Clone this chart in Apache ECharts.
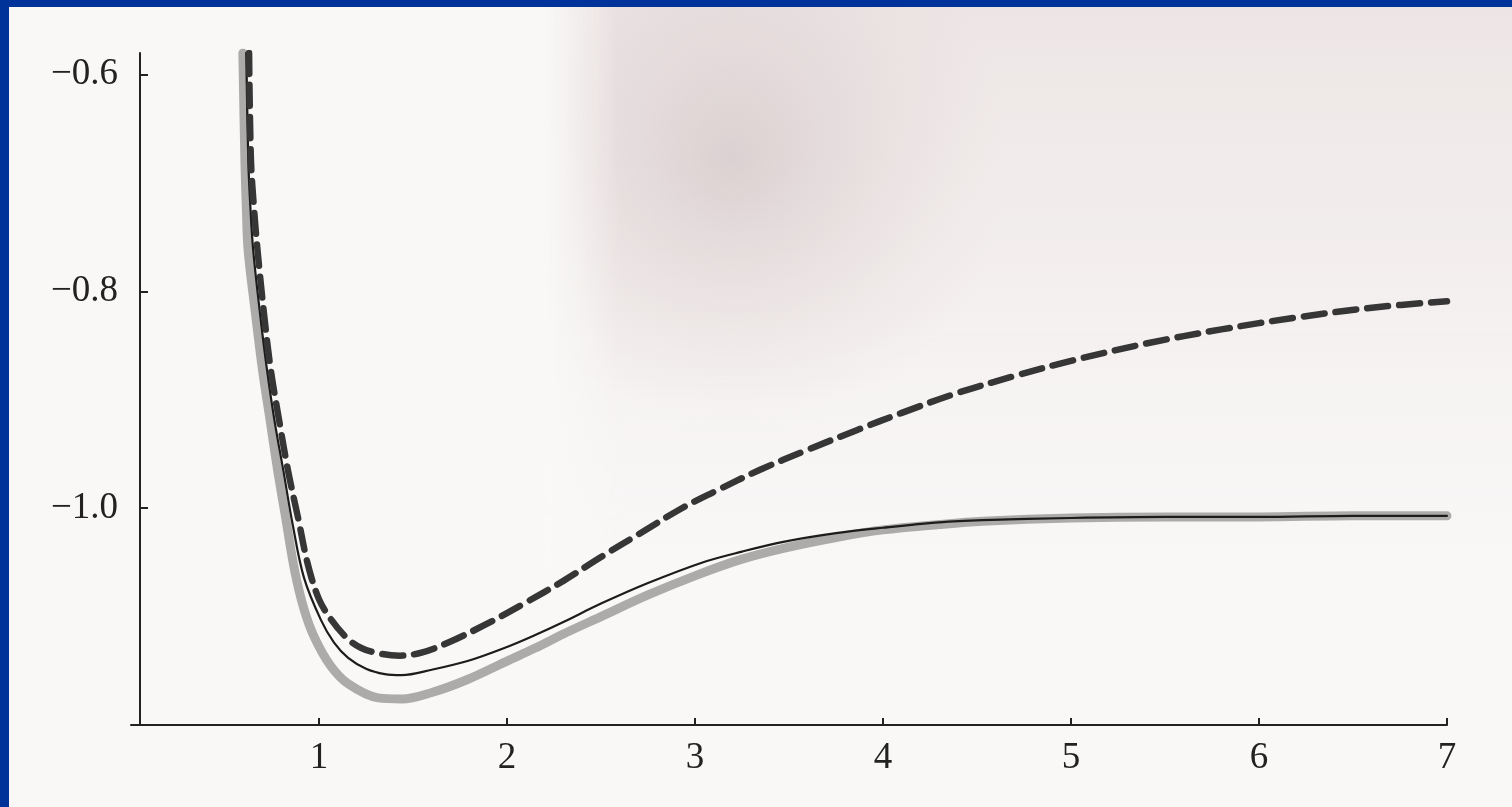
<!DOCTYPE html>
<html>
<head>
<meta charset="utf-8">
<script src="https://cdn.jsdelivr.net/npm/echarts@6/dist/echarts.min.js"></script>
<style>
  html, body { margin: 0; padding: 0; width: 1512px; height: 807px; background: #00339a; overflow: hidden; }
  #chart { position: absolute; left: 9px; top: 7px; width: 1503px; height: 800px; background: #f9f8f7; }
</style>
</head>
<body>
<div id="chart"></div>
<script>
// Potential energy curves E(R): three approximations
const xTicks = [1, 2, 3, 4, 5, 6, 7];
const yTicks = [-1.0, -0.8, -0.6];

// upper curve (dashed)
const rDashed = [0.628, 0.638, 0.655, 0.673, 0.709, 0.744, 0.79, 0.835, 0.89, 0.941, 1.0, 1.066, 1.15, 1.225, 1.32, 1.43, 1.55, 1.70, 1.90, 2.10, 2.30, 2.50, 2.70, 2.93, 3.10, 3.34, 3.60, 3.86, 4.10, 4.39, 4.70, 5.00, 5.40, 5.80, 6.20, 6.60, 7.00];
const eDashed = [-0.580, -0.679, -0.725, -0.762, -0.823, -0.873, -0.921, -0.965, -1.010, -1.052, -1.084, -1.103, -1.120, -1.129, -1.134, -1.136, -1.133, -1.123, -1.106, -1.087, -1.067, -1.045, -1.024, -1.000, -0.985, -0.965, -0.946, -0.928, -0.912, -0.894, -0.878, -0.864, -0.848, -0.835, -0.824, -0.815, -0.809];

// middle curve (thin solid)
const rSolid = [0.613, 0.624, 0.636, 0.650, 0.688, 0.724, 0.765, 0.81, 0.86, 0.92, 1.01, 1.08, 1.155, 1.25, 1.35, 1.44, 1.60, 1.79, 2.00, 2.15, 2.30, 2.50, 2.75, 3.04, 3.25, 3.47, 3.75, 4.00, 4.30, 4.53, 5.00, 5.50, 6.00, 6.50, 7.00];
const eSolid = [-0.580, -0.680, -0.725, -0.762, -0.823, -0.873, -0.921, -0.965, -1.015, -1.064, -1.103, -1.124, -1.138, -1.148, -1.153, -1.154, -1.149, -1.141, -1.128, -1.117, -1.105, -1.088, -1.069, -1.050, -1.040, -1.031, -1.023, -1.018, -1.013, -1.011, -1.009, -1.008, -1.008, -1.007, -1.007];

// lower curve (broad grey)
const rGray = [0.595, 0.606, 0.614, 0.623, 0.664, 0.700, 0.74, 0.78, 0.82, 0.87, 0.92, 0.975, 1.06, 1.155, 1.315, 1.44, 1.60, 1.79, 2.00, 2.15, 2.30, 2.50, 2.75, 3.02, 3.25, 3.47, 3.75, 4.00, 4.30, 4.53, 5.00, 5.50, 6.00, 6.50, 7.00];
const eGray = [-0.580, -0.680, -0.725, -0.762, -0.823, -0.873, -0.919, -0.965, -1.006, -1.057, -1.093, -1.119, -1.145, -1.162, -1.175, -1.176, -1.170, -1.158, -1.141, -1.129, -1.116, -1.100, -1.080, -1.061, -1.047, -1.037, -1.027, -1.020, -1.015, -1.012, -1.009, -1.008, -1.008, -1.007, -1.007];

const pairs = (xs, ys) => xs.map((x, i) => [x, ys[i]]);

const serif = '"Liberation Serif", "DejaVu Serif", serif';
const ink = '#222';
const paper = '#f9f8f7';
const G = echarts.graphic;

const chart = echarts.init(document.getElementById('chart'), null, { renderer: 'canvas' });

chart.setOption({
  animation: false,
  backgroundColor: 'transparent',
  // page shading of the printed sheet (darker towards the upper middle)
  graphic: [
    {
      type: 'rect', z: -10, silent: true,
      shape: { x: 520, y: 0, width: 983, height: 560 },
      style: { fill: new G.LinearGradient(0, 0, 0, 1, [
        { offset: 0, color: 'rgba(228,217,217,0.6)' },
        { offset: 0.55, color: 'rgba(236,228,228,0.4)' },
        { offset: 1, color: 'rgba(245,240,240,0)' }
      ]) }
    },
    {
      type: 'rect', z: -9, silent: true,
      shape: { x: 540, y: 0, width: 760, height: 460 },
      style: { fill: new G.RadialGradient(0.24, 0.33, 0.6, [
        { offset: 0, color: 'rgba(205,190,192,0.6)' },
        { offset: 0.55, color: 'rgba(215,200,202,0.28)' },
        { offset: 1, color: 'rgba(225,212,212,0)' }
      ]) }
    },
    {
      type: 'rect', z: -8, silent: true,
      shape: { x: 480, y: 0, width: 130, height: 560 },
      style: { fill: new G.LinearGradient(0, 0, 1, 0, [
        { offset: 0, color: paper },
        { offset: 0.4, color: paper },
        { offset: 1, color: 'rgba(249,248,247,0)' }
      ]) }
    }
  ],
  grid: { left: 122, top: 46, right: 65, bottom: 82, containLabel: false },
  xAxis: {
    type: 'value', min: 0, max: 7, interval: 1,
    axisLine: { show: true, onZero: false, lineStyle: { color: ink, width: 2 } },
    axisTick: { show: true, inside: true, length: 7, customValues: xTicks, lineStyle: { color: ink, width: 2 } },
    axisLabel: { customValues: xTicks, margin: 15, color: ink, fontFamily: serif, fontSize: 37 },
    splitLine: { show: false }
  },
  yAxis: {
    type: 'value', min: -1.2, max: -0.58, interval: 0.2, offset: -9,
    axisLine: { show: true, onZero: false, lineStyle: { color: ink, width: 2 } },
    axisTick: { show: true, inside: true, length: 8, customValues: yTicks, lineStyle: { color: ink, width: 2 } },
    axisLabel: {
      customValues: yTicks, margin: 22, color: ink, fontFamily: serif, fontSize: 37,
      formatter: v => v.toFixed(1).replace('-', '\u2212')
    },
    splitLine: { show: false }
  },
  series: [
    {
      name: 'lower', type: 'line', data: pairs(rGray, eGray), showSymbol: false,
      smooth: 0.35, z: 2,
      lineStyle: { color: '#adaaaa', width: 9, cap: 'round', join: 'round' }
    },
    {
      name: 'middle', type: 'line', data: pairs(rSolid, eSolid), showSymbol: false,
      smooth: 0.35, z: 3,
      lineStyle: { color: '#1c1c1c', width: 2.2, cap: 'round', join: 'round' }
    },
    {
      name: 'upper', type: 'line', data: pairs(rDashed, eDashed), showSymbol: false,
      smooth: 0.35, z: 4,
      lineStyle: { color: '#363636', width: 6.5, type: [21, 11], cap: 'round', join: 'round' }
    }
  ]
});
</script>
</body>
</html>
